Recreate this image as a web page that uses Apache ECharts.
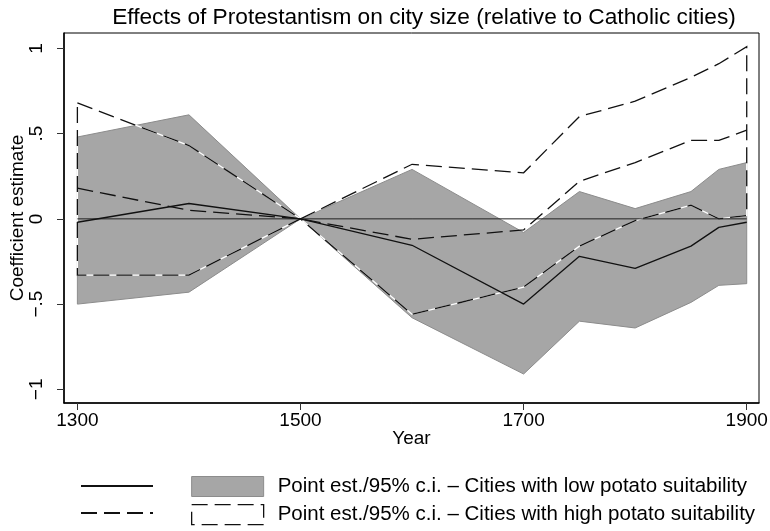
<!DOCTYPE html>
<html>
<head>
<meta charset="utf-8">
<script src="https://cdn.jsdelivr.net/npm/echarts@6/dist/echarts.min.js"></script>
<style>
  html, body { margin: 0; padding: 0; background: #fff; }
  #chart { width: 770px; height: 531px; }
</style>
</head>
<body>
<div id="chart"></div>
<script>
// data
var years = [1300, 1400, 1500, 1600, 1700, 1750, 1800, 1850, 1875, 1900];
var lowEst = [-0.02, 0.09, 0, -0.155, -0.50, -0.22, -0.29, -0.16, -0.05, -0.02];
var lowCiLower = [-0.50, -0.43, 0, -0.58, -0.91, -0.60, -0.64, -0.49, -0.39, -0.38];
var lowCiUpper = [0.48, 0.61, 0, 0.29, -0.08, 0.16, 0.06, 0.16, 0.29, 0.33];
var highEst = [0.18, 0.05, 0, -0.12, -0.065, 0.22, 0.33, 0.46, 0.46, 0.52];
var highCiLower = [-0.33, -0.33, 0, -0.56, -0.40, -0.16, -0.01, 0.08, 0.0, 0.02];
var highCiUpper = [0.68, 0.43, 0, 0.32, 0.27, 0.60, 0.69, 0.83, 0.91, 1.01];
var xTicks = [1300, 1500, 1700, 1900];
var yTicks = [-1, -0.5, 0, 0.5, 1];
var zeroLine = [[1300, 0], [1900, 0]];

var lowName = "Point est./95% c.i. \u2013 Cities with low potato suitability";
var highName = "Point est./95% c.i. \u2013 Cities with high potato suitability";
var FONT = "Liberation Sans, Arial, Helvetica, sans-serif";

function pairs(a) {
  return years.map(function (y, i) { return [y, a[i]]; });
}
function bandData(lo, hi) {
  return years.map(function (y, i) { return [y, lo[i], hi[i]]; });
}
// whole band as one polygon, drawn once
function bandPoints(api, lo, hi) {
  var pts = [];
  for (var i = 0; i < years.length; i++) pts.push(api.coord([years[i], hi[i]]));
  for (var j = years.length - 1; j >= 0; j--) pts.push(api.coord([years[j], lo[j]]));
  return pts;
}

var chart = echarts.init(document.getElementById("chart"));

var option = {
  animation: false,
  textStyle: { fontFamily: FONT },
  title: {
    text: "Effects of Protestantism on city size (relative to Catholic cities)",
    left: 419,
    textAlign: "center",
    top: 1,
    textStyle: { fontFamily: FONT, fontSize: 22.7, fontWeight: "normal", color: "#000" }
  },
  grid: {
    left: 64, right: 11, top: 33, bottom: 128,
    outerBoundsMode: "none",
    containLabel: false,
    show: true, borderColor: "#000", borderWidth: 1, backgroundColor: "#fff"
  },
  xAxis: {
    type: "value",
    min: 1288,
    max: 1911,
    name: "Year",
    nameLocation: "middle",
    nameGap: 26,
    nameMoveOverlap: false,
    nameTextStyle: { fontSize: 19, color: "#000" },
    axisLine: { onZero: false, lineStyle: { color: "#000", width: 1.5 } },
    axisTick: { customValues: xTicks, length: 7, lineStyle: { color: "#333" } },
    axisLabel: {
      customValues: xTicks, fontSize: 19, color: "#000", margin: 8,
      formatter: function (v) { return String(v); }
    },
    splitLine: { show: false }
  },
  yAxis: {
    type: "value",
    min: -1.08,
    max: 1.09,
    name: "Coefficient estimate",
    nameLocation: "middle",
    nameGap: 37,
    nameMoveOverlap: false,
    nameTextStyle: { fontSize: 19, color: "#000" },
    axisLine: { show: true, onZero: false, lineStyle: { color: "#000", width: 1.5 } },
    axisTick: { show: true, customValues: yTicks, length: 7, lineStyle: { color: "#333" } },
    axisLabel: {
      customValues: yTicks, rotate: 90, fontSize: 19, color: "#000", margin: 18,
      formatter: function (v) {
        if (v === 0) return "0";
        var s = String(Math.abs(v)).replace(/^0/, "");
        return (v < 0 ? "\u2212" : "") + s;
      }
    },
    splitLine: { show: false }
  },
  legend: [
    {
      orient: "vertical",
      left: 80, top: 476, padding: 0,
      itemWidth: 72, itemHeight: 20, itemGap: 7,
      formatter: function () { return " "; },
      textStyle: { fontSize: 20, lineHeight: 20 },
      selectedMode: false,
      data: [
        { name: "lowEst", itemStyle: { opacity: 0 } },
        { name: "highEst", itemStyle: { opacity: 0 } }
      ]
    },
    {
      orient: "vertical",
      left: 191, top: 476, padding: 0,
      itemWidth: 72, itemHeight: 20, itemGap: 7,
      textStyle: { fontFamily: FONT, fontSize: 20.5, lineHeight: 20, color: "#000", padding: [0, 0, 0, 9] },
      selectedMode: false,
      data: [
        { name: lowName, icon: "rect",
          itemStyle: { color: "#a6a6a6", borderColor: "#8c8c8c", borderWidth: 1 } },
        { name: highName, icon: "rect",
          itemStyle: { color: "rgba(0,0,0,0)", borderColor: "#111", borderWidth: 1.3, borderType: [16, 7] } }
      ]
    }
  ],
  series: [
    {
      name: lowName,
      type: "custom",
      z: 1,
      data: bandData(lowCiLower, lowCiUpper),
      encode: { x: 0, y: [1, 2] },
      itemStyle: { color: "#a6a6a6" },
      renderItem: function (params, api) {
        if (params.dataIndex !== 0) return null;
        return {
          type: "polygon",
          shape: { points: bandPoints(api, lowCiLower, lowCiUpper) },
          style: { fill: "#a6a6a6", stroke: "#8c8c8c", lineWidth: 1 }
        };
      }
    },
    {
      name: highName,
      type: "custom",
      z: 2,
      data: bandData(highCiLower, highCiUpper),
      encode: { x: 0, y: [1, 2] },
      itemStyle: { color: "#111" },
      renderItem: function (params, api) {
        if (params.dataIndex !== 0) return null;
        var pts = bandPoints(api, highCiLower, highCiUpper);
        return {
          type: "group",
          children: [
            { type: "polygon", shape: { points: pts },
              style: { fill: "none", stroke: "#fff", lineWidth: 1.3 } },
            { type: "polygon", shape: { points: pts },
              style: { fill: "none", stroke: "#111", lineWidth: 1.3, lineDash: [16, 7] } }
          ]
        };
      }
    },
    {
      name: "zero",
      type: "line",
      z: 3,
      data: zeroLine,
      symbol: "none",
      lineStyle: { color: "#222", width: 1 },
      silent: true
    },
    {
      name: "lowEst",
      type: "line",
      z: 4,
      data: pairs(lowEst),
      symbol: "none",
      color: "#111",
      lineStyle: { color: "#111", width: 1.3 }
    },
    {
      name: "highEst",
      type: "line",
      z: 4,
      data: pairs(highEst),
      symbol: "none",
      color: "#111",
      lineStyle: { color: "#111", width: 1.3, type: [16, 7] }
    }
  ]
};

chart.setOption(option);
</script>
</body>
</html>
